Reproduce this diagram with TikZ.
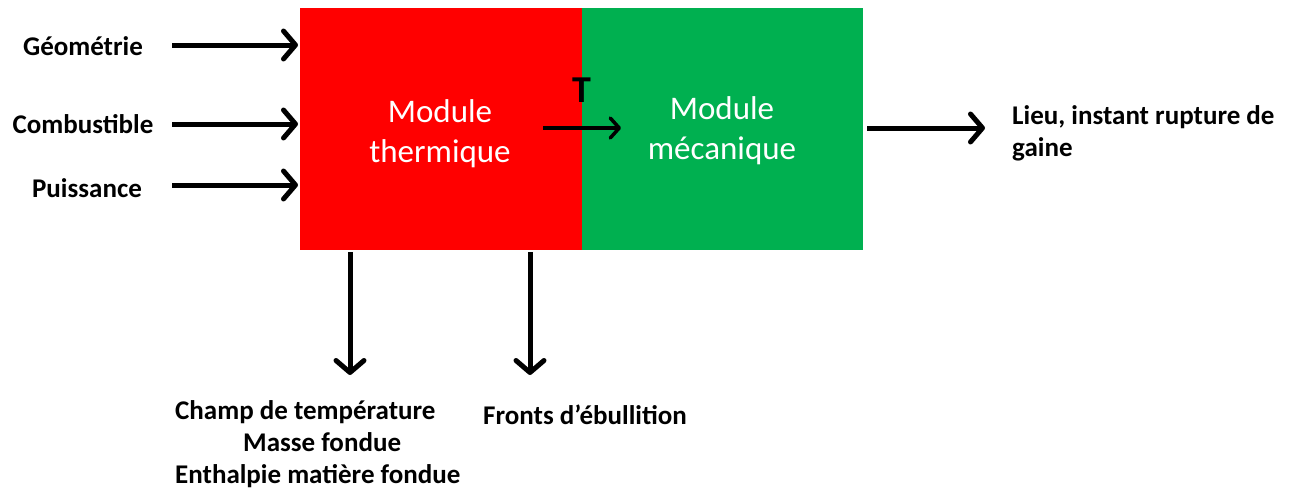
\documentclass[tikz,border=0pt]{standalone}
\usepackage{fontspec}
\setmainfont{Carlito}
\usetikzlibrary{arrows.meta}
\tikzset{
  flow/.style={line width=5pt, -{Straight Barb[length=12pt,width=28pt,line cap=round,round]}},
  lbl/.style={font=\bfseries\fontsize{27}{32}\selectfont, text=black, inner sep=0pt},
  mod/.style={font=\fontsize{33}{40}\selectfont, text=white, align=center, inner sep=0pt},
}
\definecolor{redmod}{RGB}{255,0,0}
\definecolor{greenmod}{RGB}{0,176,80}
\begin{document}
\begin{tikzpicture}[x=1pt,y=-1pt]
\useasboundingbox (0,0) rectangle (1294,491);
\fill[redmod] (300,8) rectangle (582,250);
\fill[greenmod] (582,8) rectangle (863,250);
\node[mod] (mt) at (440,134) {Module\\thermique};
\node[mod] (mm) at (722,131) {Module\\mécanique};
\node[lbl, font=\bfseries\fontsize{38}{40}\selectfont, anchor=base] (T) at (582,102) {T};
\coordinate (ts) at (543,128);
\coordinate (te) at (621,128);
\draw[flow, line width=3.5pt, -{Straight Barb[length=9pt,width=20pt,line cap=round,round]}] (ts) -- (te);
% inputs
\node[lbl] (g) at (83,46) {Géométrie};
\node[lbl] (c) at (83,124) {Combustible};
\node[lbl] (p) at (87,188) {Puissance};
\coordinate (gi) at (298,45);
\coordinate (ci) at (298,124);
\coordinate (pi) at (298,185);
\draw[flow] (172,45) -- (gi);
\draw[flow] (172,124) -- (ci);
\draw[flow] (172,185) -- (pi);
% output right
\coordinate (ro) at (867,128);
\coordinate (re) at (985,128);
\draw[flow] (ro) -- (re);
\node[lbl, align=left, anchor=west] (out) at (1012,133) {Lieu, instant rupture de\\gaine};
% outputs bottom
\coordinate (d1s) at (350,252);
\coordinate (d1e) at (350,375);
\coordinate (d2s) at (530,252);
\coordinate (d2e) at (530,375);
\draw[flow] (d1s) -- (d1e);
\draw[flow] (d2s) -- (d2e);
\node[lbl, align=left, anchor=west] (champ) at (175,444) {Champ de température\\\hspace*{68pt}Masse fondue\\Enthalpie matière fondue};
\node[lbl] (fronts) at (585,415) {Fronts d’ébullition};
\end{tikzpicture}
\end{document}
